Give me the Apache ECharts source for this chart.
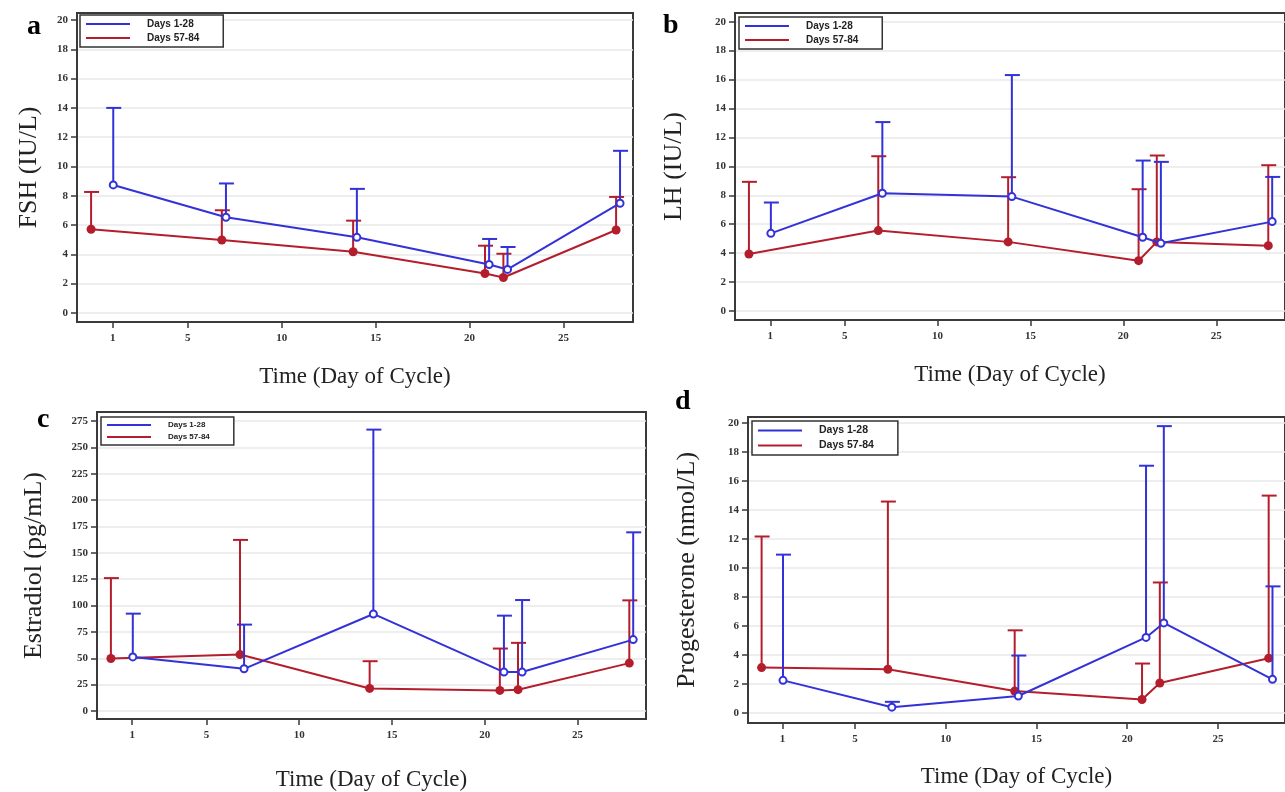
<!DOCTYPE html>
<html>
<head>
<meta charset="utf-8">
<script src="https://cdn.jsdelivr.net/npm/echarts@6/dist/echarts.min.js"></script>
<style>
  html, body { margin: 0; padding: 0; background: #fff; }
  #chart { width: 1285px; height: 792px; }
</style>
</head>
<body>
<div id="chart"></div>
<script>
// sampling days (points are drawn slightly apart, as in the figure)
const blueDays = [1.03, 7.03, 14.0, 21.04, 22.02, 28.01];
const redDays = [-0.15, 6.81, 13.8, 20.82, 21.8, 27.8];

const dayTicks = [1, 5, 10, 15, 20, 25];
const ticks20 = [0, 2, 4, 6, 8, 10, 12, 14, 16, 18, 20];
const ticksE2 = [0, 25, 50, 75, 100, 125, 150, 175, 200, 225, 250, 275];

// FSH (IU/L)
const fshEarly = [8.74, 6.53, 5.16, 3.31, 2.97, 7.49];
const fshEarlyUp = [14.0, 8.84, 8.47, 5.05, 4.5, 11.07];
const fshLate = [5.71, 4.98, 4.18, 2.69, 2.42, 5.66];
const fshLateUp = [8.26, 7.01, 6.3, 4.59, 4.04, 7.92];

// LH (IU/L)
const lhEarly = [5.37, 8.14, 7.91, 5.1, 4.68, 6.18];
const lhEarlyUp = [7.5, 13.06, 16.31, 10.4, 10.31, 9.27];
const lhLate = [3.94, 5.56, 4.78, 3.48, 4.78, 4.52];
const lhLateUp = [8.93, 10.7, 9.25, 8.42, 10.75, 10.08];

// Estradiol (pg/mL)
const e2Early = [51.3, 40.0, 92.0, 36.9, 36.9, 67.7];
const e2EarlyUp = [92.3, 81.9, 266.8, 90.4, 105.2, 169.4];
const e2Late = [49.8, 53.5, 21.4, 19.5, 20.2, 45.4];
const e2LateUp = [126.0, 162.2, 47.2, 59.2, 64.6, 104.9];

// Progesterone (nmol/L)
const pEarly = [2.24, 0.39, 1.16, 5.2, 6.2, 2.31];
const pEarlyUp = [10.91, 0.76, 3.95, 17.04, 19.77, 8.72];
const pLate = [3.12, 3.01, 1.5, 0.92, 2.06, 3.77];
const pLateUp = [12.16, 14.57, 5.69, 3.4, 8.99, 14.98];

const BLUE = '#3232d8';
const RED = '#b41e2c';
const SERIF = '"Liberation Serif", "DejaVu Serif", serif';
const SANS = '"Liberation Sans", Arial, sans-serif';

const panels = [
  { letter: 'a', name: 'FSH (IU/L)', early: fshEarly, earlyUp: fshEarlyUp, late: fshLate, lateUp: fshLateUp,
    ticks: ticks20, yMin: -0.62, yMax: 20.48,
    grid: { left: 77, top: 13, width: 556, height: 309 }, nameGap: 35, xGap: 43,
    letterPos: [27, 13], legend: { left: 80, top: 15, size: 10 } },
  { letter: 'b', name: 'LH (IU/L)', early: lhEarly, earlyUp: lhEarlyUp, late: lhLate, lateUp: lhLateUp,
    ticks: ticks20, yMin: -0.62, yMax: 20.6,
    grid: { left: 735, top: 13, width: 553, height: 307 }, nameGap: 48, xGap: 43,
    letterPos: [663, 12], legend: { left: 739, top: 17, size: 10 } },
  { letter: 'c', name: 'Estradiol (pg/mL)', early: e2Early, earlyUp: e2EarlyUp, late: e2Late, lateUp: e2LateUp,
    ticks: ticksE2, yMin: -7.6, yMax: 283.5,
    grid: { left: 97, top: 412, width: 549, height: 308 }, nameGap: 50, xGap: 49,
    letterPos: [37, 406], legend: { left: 101, top: 417, size: 8 } },
  { letter: 'd', name: 'Progesterone (nmol/L)', early: pEarly, earlyUp: pEarlyUp, late: pLate, lateUp: pLateUp,
    ticks: ticks20, yMin: -0.7, yMax: 20.4,
    grid: { left: 748, top: 417, width: 549, height: 306 }, nameGap: 48, xGap: 42,
    letterPos: [675, 388], legend: { left: 752, top: 421, size: 10.5 } }
];

function zip(xs, ys, ups) {
  return xs.map((x, i) => ups ? [x, ys[i], ups[i]] : [x, ys[i]]);
}

function renderErr(params, api) {
  const p = api.coord([api.value(0), api.value(1)]);
  const t = api.coord([api.value(0), api.value(2)]);
  const style = { stroke: api.visual('color'), lineWidth: 2 };
  return {
    type: 'group',
    children: [
      { type: 'line', shape: { x1: p[0], y1: p[1], x2: t[0], y2: t[1] }, style: style },
      { type: 'line', shape: { x1: t[0] - 7, y1: t[1], x2: t[0] + 8, y2: t[1] }, style: style }
    ]
  };
}

const grids = [], xAxes = [], yAxes = [], series = [], legends = [], titles = [];

panels.forEach((pn, i) => {
  grids.push(Object.assign({ show: true, borderColor: '#3a3a3a', borderWidth: 2, backgroundColor: '#fff' }, pn.grid));
  titles.push({
    text: pn.letter, left: pn.letterPos[0], top: pn.letterPos[1], padding: 0,
    textStyle: { fontFamily: SERIF, fontWeight: 'bold', fontSize: 28, color: '#000' }
  });
  xAxes.push({
    gridIndex: i, type: 'value', min: -0.9, max: 28.7,
    name: 'Time (Day of Cycle)', nameLocation: 'middle', nameGap: pn.xGap,
    nameTextStyle: { fontFamily: SERIF, fontSize: 23, color: '#222' },
    axisLine: { show: true, onZero: false, lineStyle: { color: '#3a3a3a', width: 2 } },
    axisTick: { show: true, length: 6, customValues: dayTicks, lineStyle: { color: '#3a3a3a', width: 1.5 } },
    axisLabel: { customValues: dayTicks, margin: 11, fontFamily: SERIF, fontSize: 11, fontWeight: 'bold', color: '#333' },
    splitLine: { show: false }
  });
  yAxes.push({
    gridIndex: i, type: 'value', min: pn.yMin, max: pn.yMax,
    name: pn.name, nameLocation: 'middle', nameGap: pn.nameGap, nameRotate: 90,
    nameTextStyle: { fontFamily: SERIF, fontSize: 26, color: '#222' },
    axisLine: { show: true, onZero: false, lineStyle: { color: '#3a3a3a', width: 2 } },
    axisTick: { show: true, length: 6, customValues: pn.ticks, lineStyle: { color: '#3a3a3a', width: 1.5 } },
    axisLabel: { customValues: pn.ticks, margin: 9, fontFamily: SERIF, fontSize: 11, fontWeight: 'bold', color: '#333' },
    splitLine: { show: true, lineStyle: { color: '#e8e8e8', width: 1.5 } }
  });
  legends.push({
    left: pn.legend.left, top: pn.legend.top, orient: 'vertical',
    data: ['Days 1-28', 'Days 57-84'],
    icon: 'rect', itemWidth: 44, itemHeight: 2, itemGap: 4,
    padding: [4, 24, 4, 6],
    backgroundColor: '#fff', borderColor: '#333', borderWidth: 1.5,
    textStyle: { fontFamily: SANS, fontWeight: 'bold', fontSize: pn.legend.size, color: '#222', padding: [0, 0, 0, 12] }
  });
  series.push(
    { name: 'Days 57-84', type: 'custom', xAxisIndex: i, yAxisIndex: i, renderItem: renderErr,
      itemStyle: { color: RED }, data: zip(redDays, pn.late, pn.lateUp), encode: { x: 0, y: [1, 2] }, z: 2 },
    { name: 'Days 57-84', type: 'line', xAxisIndex: i, yAxisIndex: i, data: zip(redDays, pn.late),
      symbol: 'circle', symbolSize: 9, color: RED, lineStyle: { width: 2 }, z: 3 },
    { name: 'Days 1-28', type: 'custom', xAxisIndex: i, yAxisIndex: i, renderItem: renderErr,
      itemStyle: { color: BLUE }, data: zip(blueDays, pn.early, pn.earlyUp), encode: { x: 0, y: [1, 2] }, z: 4 },
    { name: 'Days 1-28', type: 'line', xAxisIndex: i, yAxisIndex: i, data: zip(blueDays, pn.early),
      symbol: 'emptyCircle', symbolSize: 7, color: BLUE, itemStyle: { borderWidth: 1 }, lineStyle: { width: 2 }, z: 5 }
  );
});

const chart = echarts.init(document.getElementById('chart'));
chart.setOption({
  animation: false,
  backgroundColor: '#fff',
  title: titles,
  legend: legends,
  grid: grids,
  xAxis: xAxes,
  yAxis: yAxes,
  series: series
});
</script>
</body>
</html>
